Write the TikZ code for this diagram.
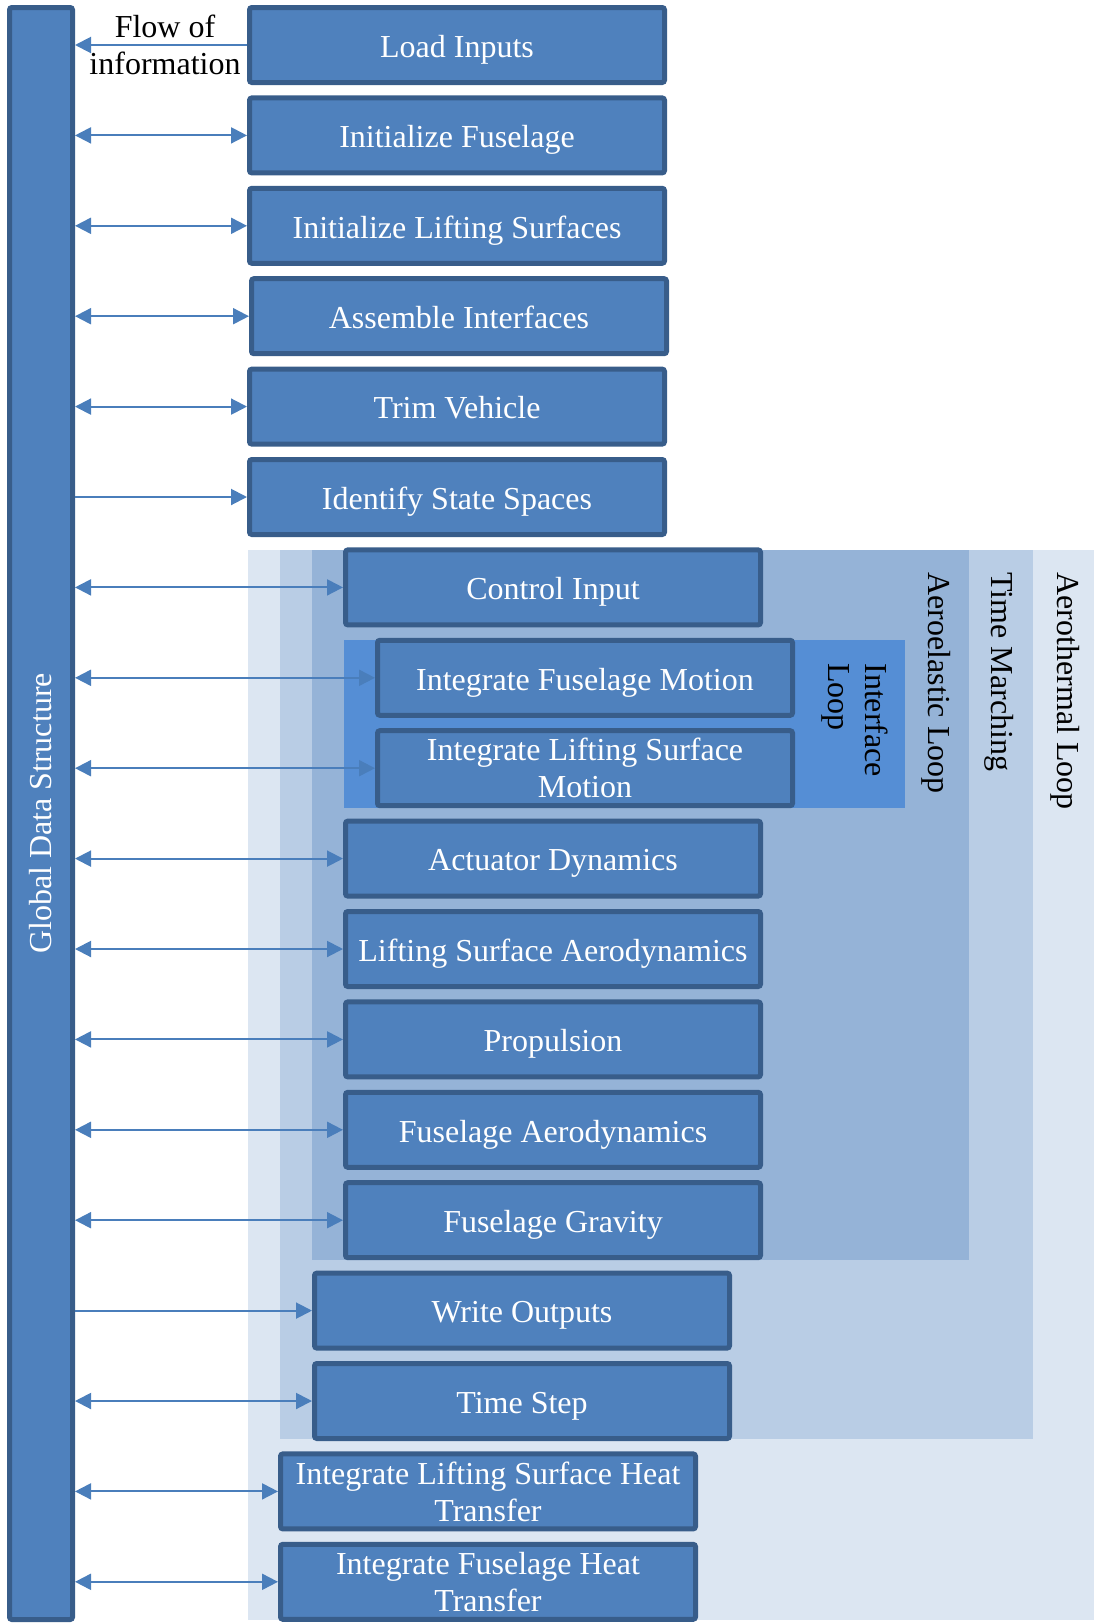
\documentclass[tikz,border=0pt]{standalone}
\usepackage{fontspec}
\setmainfont{Liberation Serif}
\usetikzlibrary{arrows.meta}
\definecolor{boxfill}{HTML}{4F81BD}
\definecolor{boxline}{HTML}{385D8A}
\definecolor{arrowc}{HTML}{4A7EBB}
\definecolor{loopA}{HTML}{DCE6F2}
\definecolor{loopB}{HTML}{B9CDE5}
\definecolor{loopC}{HTML}{95B3D7}
\definecolor{loopD}{HTML}{558ED5}
\begin{document}
\begin{tikzpicture}[x=0.5pt,y=-0.5pt,
  txt/.style={font=\fontsize{16}{18.5}\selectfont, align=center, inner sep=0pt},
  stage/.style={txt, draw=boxline, fill=boxfill, line width=2.5pt,
    rounded corners=1.2pt, minimum width=207.5pt, minimum height=37.5pt, text=white,
    text height=12.2pt, text depth=0pt},
  twoline/.style={text height=, text depth=},
  looplabel/.style={txt, align=left, rotate=-90, anchor=west},
  flow/.style={draw=arrowc, line width=1pt},
  both/.style={flow, {Triangle[length=8pt,width=8pt]}-{Triangle[length=8pt,width=8pt]}},
  tobox/.style={flow, -{Triangle[length=8pt,width=8pt]}}
]
\useasboundingbox (0,0) rectangle (1094,1623);

% nested loop regions
\fill[loopA] (248,550) rectangle (1094,1620);
\fill[loopB] (280,550) rectangle (1033,1439);
\fill[loopC] (312,550) rectangle (969,1260);
\fill[loopD] (344,640) rectangle (905,808);

\node[looplabel] (aerothermal) at (1065,572) {Aerothermal Loop};
\node[looplabel] (timemarch) at (999,572) {Time Marching};
\node[looplabel] (aeroelastic) at (936,572) {Aeroelastic Loop};
\node[looplabel] (interface) at (855,663) {Interface\\Loop};

% global data structure bar
\node[stage, twoline, minimum width=31.5pt, minimum height=806pt] (gds) at (41,813.5) {};
\node[txt, text=white, rotate=90] (gdslabel) at (gds.center) {Global Data Structure};

% process steps
\node[stage] (s0)  at (457,45.0)    {Load Inputs};
\node[stage] (s1)  at (457,135.4)   {Initialize Fuselage};
\node[stage] (s2)  at (457,225.8)   {Initialize Lifting Surfaces};
\node[stage] (s3)  at (459,316.2)   {Assemble Interfaces};
\node[stage] (s4)  at (457,406.6)   {Trim Vehicle};
\node[stage] (s5)  at (457,497.0)   {Identify State Spaces};
\node[stage] (s6)  at (553,587.4)   {Control Input};
\node[stage] (s7)  at (585,677.8)   {Integrate Fuselage Motion};
\node[stage, twoline] (s8)  at (585,768.2) {Integrate Lifting Surface\\Motion};
\node[stage] (s9)  at (553,858.6)   {Actuator Dynamics};
\node[stage] (s10) at (553,949.0)   {Lifting Surface Aerodynamics};
\node[stage] (s11) at (553,1039.4)  {Propulsion};
\node[stage] (s12) at (553,1129.8)  {Fuselage Aerodynamics};
\node[stage] (s13) at (553,1220.2)  {Fuselage Gravity};
\node[stage] (s14) at (522,1310.6)  {Write Outputs};
\node[stage] (s15) at (522,1401.0)  {Time Step};
\node[stage, twoline] (s16) at (488,1491.4) {Integrate Lifting Surface Heat\\Transfer};
\node[stage, twoline] (s17) at (488,1581.8) {Integrate Fuselage Heat\\Transfer};

\node[txt] (flowlabel) at (165,45) {Flow of\\information};

% data exchange with the global structure
\draw[tobox] (s0.west) -- (gds.east |- s0.west);
\foreach \i in {1,2,3,4,6,7,8,9,10,11,12,13,15,16,17}
  \draw[both] (gds.east |- s\i.west) -- (s\i.west);
\foreach \i in {5,14}
  \draw[tobox] (gds.east |- s\i.west) -- (s\i.west);
\end{tikzpicture}
\end{document}
